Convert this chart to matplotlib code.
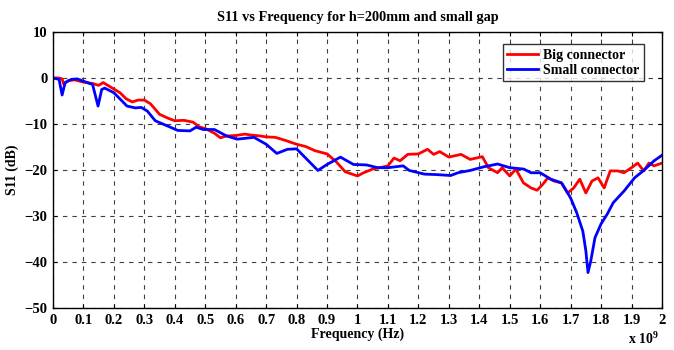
import matplotlib
matplotlib.use("Agg")
import matplotlib.pyplot as plt

# Frequency in GHz (axis shows x 10^9), S11 in dB
freq_big = [0.0, 0.02, 0.03, 0.035, 0.05, 0.07, 0.1, 0.13, 0.15, 0.165, 0.18, 0.2,
            0.22, 0.24, 0.26, 0.28, 0.3, 0.32, 0.35, 0.38, 0.4, 0.43, 0.46, 0.48,
            0.5, 0.53, 0.55, 0.57, 0.6, 0.63, 0.65, 0.68, 0.7, 0.73, 0.76, 0.8,
            0.83, 0.86, 0.9, 0.93, 0.96, 1.0, 1.02, 1.05, 1.08, 1.1, 1.12, 1.14,
            1.165, 1.2, 1.23, 1.25, 1.27, 1.3, 1.34, 1.37, 1.41, 1.43, 1.46, 1.475,
            1.5, 1.52, 1.545, 1.57, 1.59, 1.61, 1.625, 1.645, 1.67, 1.69, 1.71,
            1.73, 1.75, 1.77, 1.79, 1.81, 1.83, 1.855, 1.875, 1.9, 1.92, 1.94,
            1.957, 1.974, 2.0]
s11_big = [0.0, 0.0, -0.2, -1.3, -0.6, -0.4, -0.9, -1.2, -1.6, -1.0, -1.6, -2.4,
           -3.2, -4.5, -5.2, -4.8, -4.8, -5.6, -7.9, -8.8, -9.3, -9.2, -9.6, -10.6,
           -11.0, -12.0, -13.0, -12.6, -12.5, -12.2, -12.4, -12.6, -12.8, -12.9, -13.5, -14.4,
           -14.9, -15.8, -16.5, -18.2, -20.4, -21.3, -20.6, -19.8, -19.4, -19.1, -17.4, -18.0,
           -16.6, -16.5, -15.5, -16.6, -16.0, -17.2, -16.6, -17.7, -17.1, -19.5, -20.6, -19.5,
           -21.3, -19.8, -22.8, -23.9, -24.4, -23.0, -21.7, -22.4, -22.8, -25.0, -23.9,
           -22.0, -25.0, -22.4, -21.7, -23.9, -20.2, -20.2, -20.6, -19.5, -18.5, -20.2,
           -18.5, -19.1, -18.5]

freq_small = [0.0, 0.02, 0.03, 0.04, 0.06, 0.08, 0.1, 0.13, 0.148, 0.16, 0.17, 0.2,
              0.243, 0.27, 0.29, 0.31, 0.336, 0.375, 0.41, 0.45, 0.47, 0.494, 0.53,
              0.57, 0.605, 0.66, 0.7, 0.735, 0.77, 0.8, 0.87, 0.9, 0.944, 0.987, 1.03,
              1.066, 1.1, 1.15, 1.17, 1.22, 1.26, 1.306, 1.33, 1.37, 1.415, 1.46, 1.5,
              1.546, 1.57, 1.6, 1.635, 1.67, 1.7, 1.72, 1.74, 1.75, 1.757, 1.766, 1.78,
              1.8, 1.82, 1.84, 1.875, 1.91, 1.94, 1.974, 2.0]
s11_small = [0.0, -0.3, -3.7, -1.0, -0.3, -0.2, -0.7, -1.4, -6.1, -2.5, -2.2, -3.2,
             -6.1, -6.5, -6.4, -7.2, -9.3, -10.4, -11.4, -11.5, -10.7, -11.2, -11.2,
             -12.6, -13.3, -12.9, -14.4, -16.4, -15.5, -15.4, -20.1, -18.8, -17.2, -18.8, -18.9,
             -19.5, -19.5, -19.1, -20.1, -20.9, -21.0, -21.2, -20.6, -20.1, -19.3, -18.7, -19.5,
             -19.8, -20.6, -20.6, -22.0, -22.8, -26.1, -29.3, -33.3, -37.6, -42.3, -39.8, -34.7,
             -31.7, -29.6, -27.1, -24.6, -21.7, -20.1, -18.0, -16.8]

x_ticks = [i / 10 for i in range(21)]
x_labels = ["0", "0.1", "0.2", "0.3", "0.4", "0.5", "0.6", "0.7", "0.8", "0.9", "1",
            "1.1", "1.2", "1.3", "1.4", "1.5", "1.6", "1.7", "1.8", "1.9", "2"]
y_ticks = [-50, -40, -30, -20, -10, 0, 10]

plt.rcParams['font.family'] = ['Liberation Serif', 'DejaVu Serif']
plt.rcParams['font.weight'] = 'bold'
plt.rcParams['mathtext.fontset'] = 'custom'
plt.rcParams['mathtext.bf'] = 'Liberation Serif:bold'

fig = plt.figure(figsize=(6.74, 3.5), dpi=100)
ax = fig.add_axes([0.0786, 0.12, 0.9036, 0.7886])

ax.plot(freq_big, s11_big, color='red', linewidth=2.0, label='Big connector')
ax.plot(freq_small, s11_small, color='blue', linewidth=2.0, label='Small connector')

ax.set_xlim(0, 2)
ax.set_ylim(-50, 10)
ax.set_xticks(x_ticks)
ax.set_xticklabels(x_labels)
ax.set_yticks(y_ticks)
ax.tick_params(direction='in', length=3, width=0.8, labelsize=10.5,
               top=True, right=True, pad=4)
for lbl in ax.get_xticklabels() + ax.get_yticklabels():
    lbl.set_fontweight('bold')

ax.grid(True, color='0.25', linestyle=(0, (4, 4.5)), linewidth=0.8)
for sp in ax.spines.values():
    sp.set_linewidth(1.0)

ax.set_title("S11 vs Frequency for h=200mm and small gap", fontsize=10.3,
             fontweight='bold', pad=8)
ax.set_xlabel("Frequency (Hz)", fontsize=10, fontweight='bold', labelpad=1)
ax.set_ylabel("S11 (dB)", fontsize=10, fontweight='bold', labelpad=4)
fig.text(0.955, 0.01, "x 10$^{\\mathbf{9}}$", fontsize=10, fontweight='bold',
         ha='center', va='bottom')

leg = ax.legend(loc='upper right', bbox_to_anchor=(0.97, 0.955), fontsize=10,
                frameon=True, fancybox=False, handlelength=2.2, handletextpad=0.4,
                borderpad=0.3, labelspacing=0.15, borderaxespad=0)
leg.get_frame().set_edgecolor('black')
leg.get_frame().set_linewidth(1.0)
for t in leg.get_texts():
    t.set_fontweight('bold')

fig.savefig("out.png", dpi=100)
